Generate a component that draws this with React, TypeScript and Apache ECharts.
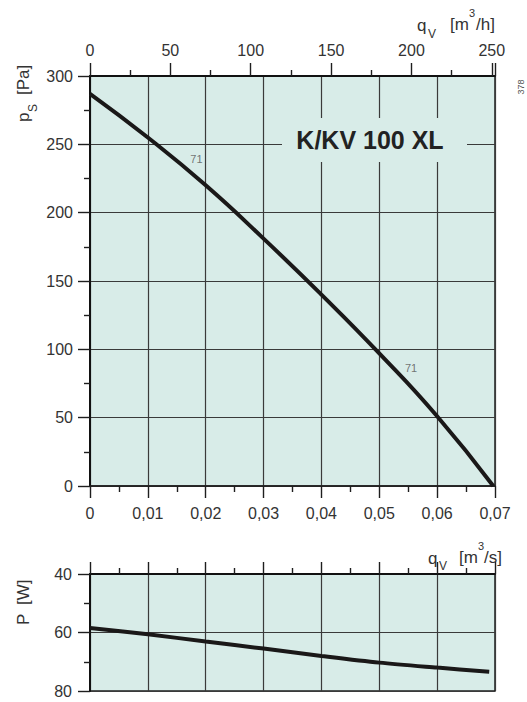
import React, { useEffect, useRef } from "react";
import * as echarts from "echarts";

// ---- data ----
const flowM3s = [0, 0.01, 0.02, 0.03, 0.04, 0.05, 0.06, 0.0697];
const pressurePa = [287, 255, 220, 181, 140, 97, 51, 0];
const powerFlowM3s = [0, 0.01, 0.02, 0.03, 0.04, 0.05, 0.06, 0.069];
const powerW = [58.5, 60.6, 63.1, 65.5, 68.0, 70.3, 72.0, 73.4];
const curveLabelFlow = [0.0184, 0.0555];
const curveLabelPressure = [239, 86];
const curveLabelText = "71";
const titleText = "K/KV 100 XL";
const codeText = "378";

const FONT = '"Liberation Sans", Arial, Helvetica, sans-serif';
const BG = "#d8ece8";
const TXT = "#333333";
const DARK = "#1e1e1e";

function commaLabel(v: number): string {
  if (v === 0) return "0";
  return v.toFixed(2).replace(".", ",");
}

export default function App() {
  const ref = useRef<HTMLDivElement>(null);

  useEffect(() => {
    if (!ref.current) return;
    const chart = echarts.init(ref.current, undefined, { renderer: "svg" });

    const tickStyle = { color: DARK, width: 1.4 };
    const gridLine = { color: "#3a3a3a", width: 1.2 };

    const option: any = {
      animation: false,
      backgroundColor: "#ffffff",
      textStyle: { fontFamily: FONT },
      grid: [
        { left: 90, top: 76, width: 405, height: 410, show: true, backgroundColor: BG, borderColor: DARK, borderWidth: 1.5 },
        { left: 90, top: 574, width: 405, height: 117, show: true, backgroundColor: BG, borderColor: DARK, borderWidth: 1.5 },
      ],
      xAxis: [
        {
          type: "value", gridIndex: 0, position: "bottom", min: 0, max: 0.07, interval: 0.01,
          axisLine: { show: true, onZero: false, lineStyle: { color: DARK, width: 1.5 } },
          axisTick: { show: true, inside: false, length: 12, lineStyle: tickStyle },
          minorTick: { show: true, splitNumber: 2, length: 6, lineStyle: tickStyle },
          axisLabel: { show: true, margin: 19, fontSize: 16, color: TXT, fontFamily: FONT, formatter: commaLabel },
          splitLine: { show: true, lineStyle: gridLine },
        },
        {
          type: "value", gridIndex: 0, position: "top", min: 0, max: 252, interval: 50,
          axisLine: { show: true, onZero: false, lineStyle: { color: "#111", width: 2 } },
          axisTick: { show: true, inside: false, length: 13, lineStyle: tickStyle },
          minorTick: { show: true, splitNumber: 2, length: 6, lineStyle: tickStyle },
          axisLabel: { show: true, margin: 18, fontSize: 16, color: TXT, fontFamily: FONT, showMaxLabel: false,
            formatter: (v: number) => (v % 50 === 0 ? String(v) : "") },
          splitLine: { show: false },
        },
        {
          type: "value", gridIndex: 1, position: "top", min: 0, max: 0.07, interval: 0.01,
          axisLine: { show: true, onZero: false, lineStyle: { color: "#111", width: 2 } },
          axisTick: { show: true, inside: false, length: 12, lineStyle: tickStyle },
          minorTick: { show: true, splitNumber: 2, length: 6, lineStyle: tickStyle },
          axisLabel: { show: false },
          splitLine: { show: true, lineStyle: gridLine },
        },
      ],
      yAxis: [
        {
          type: "value", gridIndex: 0, position: "left", min: 0, max: 300, interval: 50,
          axisLine: { show: true, onZero: false, lineStyle: { color: "#111", width: 2 } },
          axisTick: { show: true, inside: false, length: 12, lineStyle: tickStyle },
          minorTick: { show: true, splitNumber: 2, length: 6, lineStyle: tickStyle },
          axisLabel: { show: true, margin: 17, fontSize: 16, color: TXT, fontFamily: FONT },
          splitLine: { show: true, lineStyle: gridLine },
        },
        {
          type: "value", gridIndex: 1, position: "left", min: 40, max: 80, interval: 20, inverse: true,
          axisLine: { show: true, onZero: false, lineStyle: { color: "#111", width: 2 } },
          axisTick: { show: true, inside: false, length: 12, lineStyle: tickStyle },
          minorTick: { show: true, splitNumber: 2, length: 6, lineStyle: tickStyle },
          axisLabel: { show: true, margin: 18, fontSize: 16, color: TXT, fontFamily: FONT },
          splitLine: { show: true, lineStyle: gridLine },
        },
      ],
      series: [
        {
          type: "line", xAxisIndex: 0, yAxisIndex: 0, silent: true, showSymbol: false, smooth: 0.5,
          data: flowM3s.map((x, i) => [x, pressurePa[i]]),
          lineStyle: { color: "#1a1818", width: 4 }, z: 5,
        },
        {
          type: "scatter", xAxisIndex: 0, yAxisIndex: 0, silent: true, symbolSize: 0,
          data: curveLabelFlow.map((x, i) => [x, curveLabelPressure[i]]),
          label: { show: true, position: "inside", formatter: curveLabelText, fontSize: 11, color: "#555555",
            textBorderWidth: 0, fontFamily: FONT },
          z: 6,
        },
        {
          type: "line", xAxisIndex: 2, yAxisIndex: 1, silent: true, showSymbol: false, smooth: 0.3,
          data: powerFlowM3s.map((x, i) => [x, powerW[i]]),
          lineStyle: { color: "#1a1818", width: 4 }, z: 5,
        },
      ],
      graphic: [
        { type: "rect", z: 100, silent: true, shape: { x: 282, y: 118, width: 185, height: 44 }, style: { fill: BG } },
        { type: "text", z: 101, silent: true, x: 370, y: 140,
          style: { text: titleText, font: `bold 25px ${FONT}`, fill: "#222", align: "center", verticalAlign: "middle" } },
        // top axis name: q_V [m3/h]
        { type: "text", z: 101, silent: true, x: 417, y: 25, style: { text: "q", font: `17px ${FONT}`, fill: TXT, align: "left", verticalAlign: "middle" } },
        { type: "text", z: 101, silent: true, x: 428, y: 34, style: { text: "V", font: `12px ${FONT}`, fill: TXT, align: "left", verticalAlign: "middle" } },
        { type: "text", z: 101, silent: true, x: 450, y: 24, style: { text: "[m", font: `17px ${FONT}`, fill: TXT, align: "left", verticalAlign: "middle" } },
        { type: "text", z: 101, silent: true, x: 469, y: 13, style: { text: "3", font: `11px ${FONT}`, fill: TXT, align: "left", verticalAlign: "middle" } },
        { type: "text", z: 101, silent: true, x: 476, y: 24, style: { text: "/h]", font: `17px ${FONT}`, fill: TXT, align: "left", verticalAlign: "middle" } },
        // bottom axis name: q_V [m3/s]
        { type: "text", z: 101, silent: true, x: 428, y: 558, style: { text: "q", font: `17px ${FONT}`, fill: TXT, align: "left", verticalAlign: "middle" } },
        { type: "text", z: 101, silent: true, x: 439, y: 566, style: { text: "V", font: `12px ${FONT}`, fill: TXT, align: "left", verticalAlign: "middle" } },
        { type: "text", z: 101, silent: true, x: 459, y: 557, style: { text: "[m", font: `17px ${FONT}`, fill: TXT, align: "left", verticalAlign: "middle" } },
        { type: "text", z: 101, silent: true, x: 478, y: 546, style: { text: "3", font: `11px ${FONT}`, fill: TXT, align: "left", verticalAlign: "middle" } },
        { type: "text", z: 101, silent: true, x: 484, y: 557, style: { text: "/s]", font: `17px ${FONT}`, fill: TXT, align: "left", verticalAlign: "middle" } },
        // left axis name: p_S [Pa]
        {
          type: "group", x: 23.5, y: 122, rotation: Math.PI / 2, silent: true,
          children: [
            { type: "text", x: 0, y: 0, style: { text: "p", font: `17px ${FONT}`, fill: TXT, align: "left", verticalAlign: "middle" } },
            { type: "text", x: 10, y: 9, style: { text: "S", font: `12px ${FONT}`, fill: TXT, align: "left", verticalAlign: "middle" } },
            { type: "text", x: 27, y: 0, style: { text: "[Pa]", font: `17px ${FONT}`, fill: TXT, align: "left", verticalAlign: "middle" } },
          ],
        },
        // bottom left axis name: P [W]
        {
          type: "group", x: 23.5, y: 625, rotation: Math.PI / 2, silent: true,
          children: [
            { type: "text", x: 0, y: 0, style: { text: "P", font: `17px ${FONT}`, fill: TXT, align: "left", verticalAlign: "middle" } },
            { type: "text", x: 20, y: 0, style: { text: "[W]", font: `17px ${FONT}`, fill: TXT, align: "left", verticalAlign: "middle" } },
          ],
        },
        // side code number
        { type: "text", silent: true, x: 521, y: 87, rotation: Math.PI / 2,
          style: { text: codeText, font: `9px ${FONT}`, fill: "#555", align: "center", verticalAlign: "middle" } },
      ],
    };

    chart.setOption(option);
    return () => chart.dispose();
  }, []);

  return (
    <div
      ref={ref}
      style={{ position: "absolute", left: 0, top: 0, width: 527, height: 702, background: "#fff" }}
    />
  );
}
